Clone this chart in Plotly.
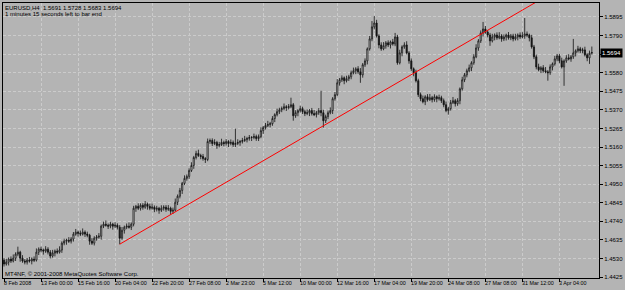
import plotly.graph_objects as go

# ---- data (EURUSD H4) ----
opens = [
1.4521,1.4499,1.4510,1.4527,1.4516,1.4532,1.4555,1.4566,1.4532,1.4516,
1.4510,1.4521,1.4516,1.4527,1.4521,1.4566,1.4583,1.4578,1.4572,1.4583,
1.4566,1.4544,1.4561,1.4572,1.4566,1.4578,1.4617,1.4628,1.4634,1.4628,
1.4640,1.4668,1.4679,1.4673,1.4668,1.4679,1.4668,1.4662,1.4628,1.4617,
1.4645,1.4651,1.4656,1.4713,1.4724,1.4718,1.4713,1.4724,1.4713,1.4718,
1.4707,1.4645,1.4690,1.4707,1.4713,1.4707,1.4724,1.4814,1.4825,1.4814,
1.4831,1.4820,1.4837,1.4825,1.4814,1.4820,1.4808,1.4814,1.4803,1.4814,
1.4820,1.4808,1.4814,1.4797,1.4803,1.4848,1.4882,1.4915,1.4955,1.4983,
1.4994,1.5028,1.5056,1.5101,1.5124,1.5112,1.5107,1.5095,1.5090,1.5191,
1.5197,1.5180,1.5186,1.5169,1.5174,1.5186,1.5180,1.5191,1.5180,1.5186,
1.5174,1.5180,1.5186,1.5191,1.5197,1.5202,1.5208,1.5214,1.5214,1.5219,
1.5208,1.5219,1.5253,1.5270,1.5281,1.5287,1.5292,1.5321,1.5343,1.5360,
1.5371,1.5377,1.5388,1.5383,1.5388,1.5399,1.5337,1.5354,1.5366,1.5377,
1.5360,1.5349,1.5354,1.5366,1.5349,1.5343,1.5354,1.5366,1.5354,1.5309,
1.5332,1.5354,1.5366,1.5433,1.5456,1.5523,1.5540,1.5551,1.5535,1.5546,
1.5557,1.5580,1.5591,1.5602,1.5585,1.5568,1.5625,1.5647,1.5715,1.5771,
1.5839,1.5861,1.5788,1.5737,1.5715,1.5732,1.5749,1.5737,1.5754,1.5743,
1.5782,1.5636,1.5692,1.5726,1.5737,1.5692,1.5647,1.5602,1.5580,1.5535,
1.5456,1.5433,1.5416,1.5444,1.5428,1.5439,1.5428,1.5444,1.5433,1.5439,
1.5422,1.5399,1.5366,1.5377,1.5411,1.5422,1.5405,1.5422,1.5489,1.5540,
1.5568,1.5591,1.5608,1.5636,1.5670,1.5720,1.5760,1.5805,1.5827,1.5810,
1.5793,1.5760,1.5782,1.5793,1.5777,1.5788,1.5771,1.5782,1.5793,1.5777,
1.5788,1.5771,1.5782,1.5793,1.5782,1.5788,1.5799,1.5793,1.5777,1.5726,
1.5670,1.5613,1.5597,1.5608,1.5591,1.5585,1.5580,1.5613,1.5630,1.5658,
1.5675,1.5647,1.5613,1.5647,1.5664,1.5658,1.5670,1.5692,1.5704,1.5715,
1.5704,1.5709,1.5681,1.5664,1.5691]

highs = [
1.4533,1.4528,1.4536,1.4542,1.4553,1.4565,1.4597,1.4574,1.4549,1.4527,
1.4533,1.4539,1.4536,1.4542,1.4587,1.4593,1.4597,1.4586,1.4600,1.4594,
1.4578,1.4579,1.4581,1.4587,1.4599,1.4627,1.4642,1.4642,1.4651,1.4651,
1.4680,1.4697,1.4688,1.4688,1.4700,1.4689,1.4682,1.4670,1.4645,1.4656,
1.4663,1.4674,1.4722,1.4739,1.4745,1.4728,1.4738,1.4732,1.4735,1.4729,
1.4719,1.4708,1.4716,1.4728,1.4734,1.4734,1.4828,1.4833,1.4842,1.4842,
1.4843,1.4855,1.4846,1.4840,1.4841,1.4830,1.4828,1.4822,1.4831,1.4831,
1.4832,1.4832,1.4823,1.4818,1.4869,1.4892,1.4929,1.4963,1.5000,1.5005,
1.5040,1.5074,1.5110,1.5139,1.5145,1.5122,1.5121,1.5103,1.5208,1.5208,
1.5209,1.5204,1.5195,1.5189,1.5207,1.5196,1.5205,1.5199,1.5203,1.5197,
1.5264,1.5204,1.5200,1.5212,1.5223,1.5218,1.5228,1.5222,1.5236,1.5230,
1.5231,1.5271,1.5279,1.5296,1.5308,1.5302,1.5335,1.5351,1.5377,1.5382,
1.5389,1.5406,1.5397,1.5403,1.5439,1.5409,1.5368,1.5374,1.5394,1.5388,
1.5372,1.5372,1.5375,1.5381,1.5370,1.5364,1.5380,1.5478,1.5371,1.5343,
1.5366,1.5384,1.5442,1.5471,1.5544,1.5550,1.5565,1.5559,1.5563,1.5568,
1.5592,1.5609,1.5611,1.5617,1.5606,1.5635,1.5661,1.5723,1.5788,1.5872,
1.5901,1.5879,1.5797,1.5752,1.5753,1.5759,1.5763,1.5762,1.5771,1.5805,
1.5794,1.5710,1.5735,1.5752,1.5758,1.5702,1.5661,1.5610,1.5597,1.5546,
1.5468,1.5451,1.5453,1.5459,1.5460,1.5449,1.5458,1.5452,1.5456,1.5450,
1.5434,1.5417,1.5386,1.5426,1.5443,1.5432,1.5436,1.5497,1.5557,1.5579,
1.5603,1.5626,1.5645,1.5685,1.5741,1.5770,1.5819,1.5867,1.5844,1.5821,
1.5805,1.5800,1.5802,1.5808,1.5809,1.5798,1.5796,1.5801,1.5810,1.5799,
1.5800,1.5800,1.5802,1.5808,1.5809,1.5889,1.5813,1.5801,1.5794,1.5737,
1.5682,1.5631,1.5617,1.5623,1.5612,1.5595,1.5627,1.5638,1.5675,1.5686,
1.5687,1.5665,1.5656,1.5679,1.5685,1.5680,1.5771,1.5712,1.5732,1.5726,
1.5721,1.5727,1.5690,1.5705,1.5728]

lows = [
1.4485,1.4490,1.4491,1.4505,1.4508,1.4516,1.4543,1.4512,1.4506,1.4497,
1.4496,1.4507,1.4497,1.4510,1.4513,1.4550,1.4566,1.4552,1.4562,1.4553,
1.4530,1.4535,1.4542,1.4555,1.4558,1.4562,1.4605,1.4608,1.4618,1.4615,
1.4626,1.4659,1.4654,1.4657,1.4660,1.4652,1.4650,1.4608,1.4607,1.4604,
1.4631,1.4642,1.4637,1.4702,1.4710,1.4697,1.4701,1.4693,1.4703,1.4694,
1.4611,1.4636,1.4671,1.4696,1.4699,1.4691,1.4712,1.4794,1.4804,1.4801,
1.4806,1.4811,1.4806,1.4803,1.4806,1.4792,1.4796,1.4783,1.4793,1.4801,
1.4794,1.4799,1.4778,1.4782,1.4795,1.4832,1.4870,1.4895,1.4945,1.4970,
1.4980,1.5019,1.5037,1.5090,1.5104,1.5091,1.5083,1.5070,1.5080,1.5178,
1.5166,1.5171,1.5150,1.5158,1.5166,1.5164,1.5168,1.5160,1.5170,1.5161,
1.5160,1.5171,1.5167,1.5180,1.5189,1.5186,1.5196,1.5194,1.5204,1.5195,
1.5194,1.5210,1.5234,1.5259,1.5273,1.5271,1.5280,1.5301,1.5333,1.5347,
1.5357,1.5368,1.5364,1.5372,1.5380,1.5309,1.5325,1.5334,1.5356,1.5347,
1.5335,1.5340,1.5335,1.5338,1.5335,1.5327,1.5342,1.5334,1.5270,1.5296,
1.5318,1.5345,1.5347,1.5422,1.5448,1.5507,1.5528,1.5515,1.5525,1.5533,
1.5543,1.5571,1.5572,1.5574,1.5523,1.5552,1.5613,1.5627,1.5705,1.5758,
1.5825,1.5779,1.5718,1.5704,1.5707,1.5716,1.5725,1.5717,1.5733,1.5730,
1.5625,1.5627,1.5673,1.5715,1.5684,1.5631,1.5590,1.5560,1.5525,1.5443,
1.5419,1.5407,1.5397,1.5417,1.5420,1.5412,1.5416,1.5413,1.5423,1.5409,
1.5385,1.5357,1.5343,1.5366,1.5403,1.5389,1.5393,1.5402,1.5479,1.5527,
1.5554,1.5582,1.5589,1.5625,1.5662,1.5704,1.5748,1.5785,1.5800,1.5780,
1.5732,1.5751,1.5763,1.5766,1.5769,1.5755,1.5759,1.5762,1.5767,1.5764,
1.5757,1.5762,1.5763,1.5771,1.5774,1.5772,1.5781,1.5757,1.5716,1.5657,
1.5599,1.5588,1.5578,1.5580,1.5577,1.5535,1.5568,1.5593,1.5620,1.5645,
1.5633,1.5604,1.5506,1.5636,1.5650,1.5642,1.5658,1.5672,1.5694,1.5691,
1.5690,1.5672,1.5645,1.5630,1.5683]

closes = [
1.4499,1.4510,1.4527,1.4516,1.4532,1.4555,1.4566,1.4532,1.4516,1.4510,
1.4521,1.4516,1.4527,1.4521,1.4566,1.4583,1.4578,1.4572,1.4583,1.4566,
1.4544,1.4561,1.4572,1.4566,1.4578,1.4617,1.4628,1.4634,1.4628,1.4640,
1.4668,1.4679,1.4673,1.4668,1.4679,1.4668,1.4662,1.4628,1.4617,1.4645,
1.4651,1.4656,1.4713,1.4724,1.4718,1.4713,1.4724,1.4713,1.4718,1.4707,
1.4645,1.4690,1.4707,1.4713,1.4707,1.4724,1.4814,1.4825,1.4814,1.4831,
1.4820,1.4837,1.4825,1.4814,1.4820,1.4808,1.4814,1.4803,1.4814,1.4820,
1.4808,1.4814,1.4797,1.4803,1.4848,1.4882,1.4915,1.4955,1.4983,1.4994,
1.5028,1.5056,1.5101,1.5124,1.5112,1.5107,1.5095,1.5090,1.5191,1.5197,
1.5180,1.5186,1.5169,1.5174,1.5186,1.5180,1.5191,1.5180,1.5186,1.5174,
1.5180,1.5186,1.5191,1.5197,1.5202,1.5208,1.5214,1.5214,1.5219,1.5208,
1.5219,1.5253,1.5270,1.5281,1.5287,1.5292,1.5321,1.5343,1.5360,1.5371,
1.5377,1.5388,1.5383,1.5388,1.5399,1.5337,1.5354,1.5366,1.5377,1.5360,
1.5349,1.5354,1.5366,1.5349,1.5343,1.5354,1.5366,1.5354,1.5309,1.5332,
1.5354,1.5366,1.5433,1.5456,1.5523,1.5540,1.5551,1.5535,1.5546,1.5557,
1.5580,1.5591,1.5602,1.5585,1.5568,1.5625,1.5647,1.5715,1.5771,1.5839,
1.5861,1.5788,1.5737,1.5715,1.5732,1.5749,1.5737,1.5754,1.5743,1.5782,
1.5636,1.5692,1.5726,1.5737,1.5692,1.5647,1.5602,1.5580,1.5535,1.5456,
1.5433,1.5416,1.5444,1.5428,1.5439,1.5428,1.5444,1.5433,1.5439,1.5422,
1.5399,1.5366,1.5377,1.5411,1.5422,1.5405,1.5422,1.5489,1.5540,1.5568,
1.5591,1.5608,1.5636,1.5670,1.5720,1.5760,1.5805,1.5827,1.5810,1.5793,
1.5760,1.5782,1.5793,1.5777,1.5788,1.5771,1.5782,1.5793,1.5777,1.5788,
1.5771,1.5782,1.5793,1.5782,1.5788,1.5799,1.5793,1.5777,1.5726,1.5670,
1.5613,1.5597,1.5608,1.5591,1.5585,1.5580,1.5613,1.5630,1.5658,1.5675,
1.5647,1.5613,1.5647,1.5664,1.5658,1.5670,1.5692,1.5704,1.5715,1.5704,
1.5709,1.5681,1.5664,1.5690,1.5694]

# time labels every 16 bars
x_tick_bars = [0, 16, 32, 48, 64, 80, 96, 112, 128, 144, 160, 176, 192, 208, 224, 240]
x_tick_labels = ["8 Feb 2008", "13 Feb 00:00", "15 Feb 16:00", "20 Feb 04:00",
                 "22 Feb 20:00", "27 Feb 08:00", "2 Mar 23:00", "5 Mar 12:00",
                 "10 Mar 00:00", "12 Mar 16:00", "17 Mar 04:00", "19 Mar 20:00",
                 "24 Mar 08:00", "27 Mar 08:00", "31 Mar 12:00", "3 Apr 04:00"]

y_ticks = [1.4425, 1.4530, 1.4635, 1.4740, 1.4845, 1.4950, 1.5055, 1.5160,
           1.5265, 1.5370, 1.5475, 1.5580, 1.5685, 1.5790, 1.5895]
y_tick_labels = ["1.4425", "1.4530", "1.4635", "1.4740", "1.4845", "1.4950", "1.5055",
                 "1.5160", "1.5265", "1.5370", "1.5475", "1.5580", "", "1.5790", "1.5895"]

# trend line anchors (bar index, price)
trend_x = [50, 204]
trend_y = [1.4611, 1.5782]

bid_price = 1.5694
header1 = "EURUSD,H4  1.5691 1.5728 1.5683 1.5694"
header2 = "1 minutes 15 seconds left to bar end"
footer = "MT4NF, © 2001-2008 MetaQuotes Software Corp."

# ---- styling ----
BG = "#B4B4B4"
GRID = "#CBCBCB"
FONT = "Liberation Sans"
FS = 6
FSX = 5.4

bars = list(range(len(closes)))
x_range = [-0.43, 257.1]
y_range = [1.4420, 1.5974]

fig = go.Figure()
fig.add_trace(go.Candlestick(
    x=bars, open=opens, high=highs, low=lows, close=closes,
    increasing=dict(line=dict(color="#111111", width=0.8), fillcolor="#F0F0F0"),
    decreasing=dict(line=dict(color="#111111", width=0.8), fillcolor="#111111"),
    whiskerwidth=0, hoverinfo="skip", showlegend=False))

slope = (trend_y[1] - trend_y[0]) / (trend_x[1] - trend_x[0])
x_end = x_range[1]
fig.add_trace(go.Scatter(
    x=[trend_x[0], x_end], y=[trend_y[0], trend_y[0] + slope * (x_end - trend_x[0])],
    mode="lines", line=dict(color="#FF0000", width=1), hoverinfo="skip", showlegend=False))

annotations = []
for b, t in zip(x_tick_bars, x_tick_labels):
    annotations.append(dict(x=b, xref="x", y=0, yref="paper", text=t, showarrow=False,
                            xanchor="left", yanchor="top", yshift=-1, xshift=-1,
                            font=dict(family=FONT, size=FSX, color="black"), borderpad=0))
annotations.append(dict(x=0, xref="paper", y=1, yref="paper", text=header1, showarrow=False,
                        xanchor="left", yanchor="top", xshift=1, yshift=-1,
                        font=dict(family=FONT, size=FS, color="black"), borderpad=0))
annotations.append(dict(x=0, xref="paper", y=1, yref="paper", text=header2, showarrow=False,
                        xanchor="left", yanchor="top", xshift=1, yshift=-7,
                        font=dict(family=FONT, size=FS, color="black"), borderpad=0))
annotations.append(dict(x=0, xref="paper", y=0, yref="paper", text=footer, showarrow=False,
                        xanchor="left", yanchor="bottom", xshift=1, yshift=0,
                        font=dict(family=FONT, size=FS, color="black"), borderpad=0))
annotations.append(dict(x=1, xref="paper", y=bid_price, yref="y", text="%.4f" % bid_price,
                        showarrow=False, xanchor="left", yanchor="middle", xshift=1,
                        bgcolor="black", font=dict(family=FONT, size=FS, color="white"),
                        borderpad=1))

fig.update_layout(
    width=625, height=290,
    margin=dict(l=2, r=22, t=2, b=12),
    paper_bgcolor=BG, plot_bgcolor=BG,
    showlegend=False,
    annotations=annotations,
    xaxis=dict(range=x_range, rangeslider=dict(visible=False),
               tickmode="array", tickvals=x_tick_bars, showticklabels=False,
               ticks="outside", ticklen=3, tickcolor="black",
               showgrid=True, gridcolor=GRID, griddash="3px,2px", gridwidth=1,
               showline=True, linecolor="black", linewidth=1, mirror=True,
               zeroline=False, fixedrange=True),
    yaxis=dict(side="right", range=y_range,
               tickmode="array", tickvals=y_ticks, ticktext=y_tick_labels,
               ticks="outside", ticklen=3, tickcolor="black",
               tickfont=dict(family=FONT, size=FS, color="black"),
               showgrid=True, gridcolor=GRID, griddash="3px,2px", gridwidth=1,
               showline=True, linecolor="black", linewidth=1, mirror=True,
               zeroline=False, fixedrange=True),
)

fig.write_html("out.html")
